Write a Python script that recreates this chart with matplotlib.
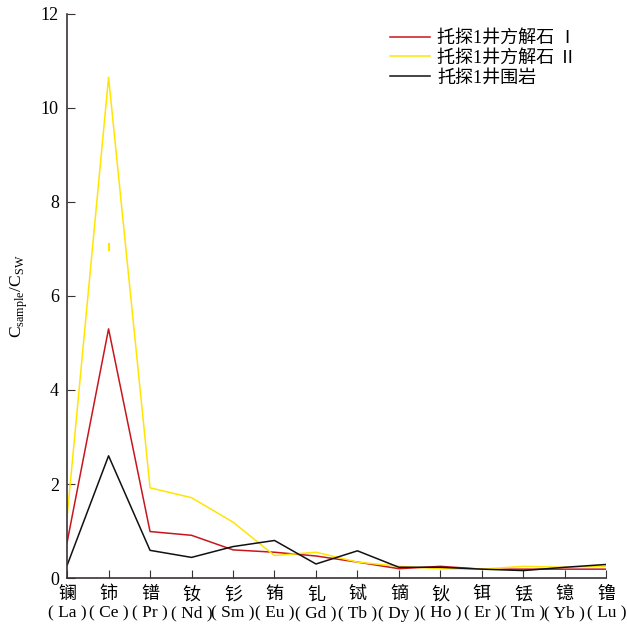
import matplotlib
matplotlib.use('Agg')
import matplotlib.pyplot as plt
import numpy as np

plt.rcParams['font.family'] = ['Liberation Serif', 'Noto Sans CJK SC', 'DejaVu Sans']
plt.rcParams['mathtext.fontset'] = 'custom'
plt.rcParams['mathtext.rm'] = 'Liberation Serif'

# ── data ──────────────────────────────────────────────
elements_cn = ['镧', '铈', '镨', '钕', '钐', '铕', '钆', '铽', '镝', '钬', '铒', '铥', '镱', '镥']
elements_sym = ['La', 'Ce', 'Pr', 'Nd', 'Sm', 'Eu', 'Gd', 'Tb', 'Dy', 'Ho', 'Er', 'Tm', 'Yb', 'Lu']

calcite_1 = [0.76, 5.30, 0.99, 0.91, 0.60, 0.55, 0.47, 0.34, 0.20, 0.25, 0.19, 0.19, 0.19, 0.19]
calcite_2 = [1.30, 10.65, 1.92, 1.71, 1.19, 0.48, 0.55, 0.34, 0.25, 0.20, 0.19, 0.25, 0.23, 0.25]
wall_rock = [0.27, 2.60, 0.59, 0.44, 0.67, 0.80, 0.30, 0.58, 0.23, 0.23, 0.19, 0.16, 0.23, 0.29]

# small stray yellow mark at Ce
stray_x = [1, 1]
stray_y = [6.98, 7.10]

labels = ['托探1井方解石 Ⅰ', '托探1井方解石 Ⅱ', '托探1井围岩']
colors = ['#c8161d', '#ffe500', '#111111']

x = np.arange(len(elements_sym))

fig = plt.figure(figsize=(6.27, 6.27), dpi=100)
ax = fig.add_axes([0.107, 0.078, 0.860, 0.900])

for vals, lab, c in zip([calcite_1, calcite_2, wall_rock], labels, colors):
    ax.plot(x, vals, color=c, lw=1.1, label=lab)
ax.plot(stray_x, stray_y, color=colors[1], lw=1.6)

ax.set_xlim(0, 13)
ax.set_ylim(0, 12)
ax.set_yticks([0, 2, 4, 6, 8, 10, 12])
ax.set_xticks(x)
ax.set_xticklabels(elements_cn, fontsize=13)
ax.tick_params(axis='y', direction='in', length=6, labelsize=13, color='#3a3232', pad=6)
ax.tick_params(axis='x', direction='in', length=6, color='#3a3232', pad=6)

# second row of x labels: element symbols
for xi, sym in zip(x, elements_sym):
    ax.annotate(f'( {sym} )', xy=(xi, 0), xycoords=('data', 'axes fraction'),
                xytext=(0, -20), textcoords='offset points',
                ha='center', va='top', fontsize=12.5)

for s in ['top', 'right']:
    ax.spines[s].set_visible(False)
for s in ['left', 'bottom']:
    ax.spines[s].set_color('#3a3232')
    ax.spines[s].set_linewidth(1.2)

ax.set_ylabel(r'C$_{\rm sample}$/C$_{\rm SW}$', fontsize=12.5, labelpad=8)

ax.legend(loc='upper right', bbox_to_anchor=(0.975, 1.0), frameon=False,
          fontsize=13, handlelength=2.2, handletextpad=0.4, labelspacing=0.15)

fig.savefig('out.png', dpi=100)
